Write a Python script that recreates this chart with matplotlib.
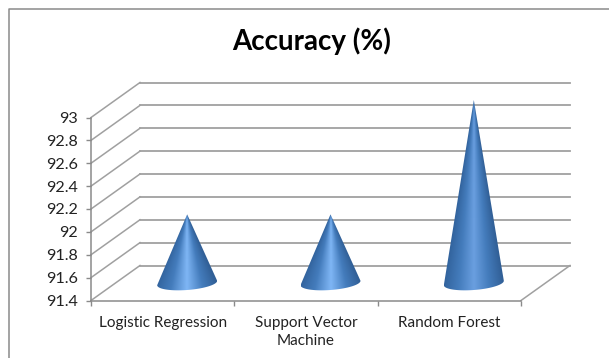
import matplotlib
matplotlib.use("Agg")
import matplotlib.pyplot as plt
import numpy as np
from matplotlib.colors import LinearSegmentedColormap
from matplotlib.lines import Line2D
from matplotlib.patches import PathPatch
from matplotlib.path import Path
from matplotlib.transforms import Affine2D

# values
categories = ["Logistic Regression", "Support Vector\nMachine", "Random Forest"]
accuracy = [92.0, 92.0, 93.0]
y_ticks = [91.4, 91.6, 91.8, 92, 92.2, 92.4, 92.6, 92.8, 93]
y_tick_labels = ["91.4", "91.6", "91.8", "92", "92.2", "92.4", "92.6", "92.8", "93"]

plt.rcParams['font.family'] = ['Lato', 'DejaVu Sans']

W, H = 609, 358
fig = plt.figure(figsize=(W / 100, H / 100), dpi=100)
ax = fig.add_axes([91 / W, (H - 300.5) / H, 430 / W, 183 / H])
ax.set_xlim(0, 3)
ax.set_ylim(91.4, 93)

# chart is a fake 3D one, the back wall is the front plane shifted by some pixels
grey = "#a0a0a0"
back = ax.transData + Affine2D().translate(49, 35)
mid = ax.transData + Affine2D().translate(24.5, 17.5)


def depth_line(x, y):
    # line from front plane to back wall, in pixels on screen
    p0 = ax.transData.transform((x, y))
    p1 = back.transform((x, y))
    ax.add_line(Line2D([p0[0], p1[0]], [p0[1], p1[1]], transform=None,
                       color=grey, lw=1.1, clip_on=False, zorder=1))


for v in y_ticks:
    ax.plot([0, 3], [v, v], transform=back, color=grey, lw=1.3, clip_on=False, zorder=1)
    depth_line(0, v)
depth_line(3, y_ticks[0])

# cones
px_x = 3 / 430
px_y = 1.6 / 183
half_w = 30 * px_x
base_b = 7 * px_y
tilt = 2.2 * px_y
light = ["#7fb6f5", "#7fb6f5", "#6a9fe0"]

for i, v in enumerate(accuracy):
    cm = LinearSegmentedColormap.from_list("cone", [
        (0.0, "#32639d"), (0.25, "#447cbc"), (0.5, light[i]),
        (0.75, "#447cbc"), (1.0, "#315f96")])
    xc = i + 0.5
    y0 = y_ticks[0]
    xs = np.linspace(xc - half_w, xc + half_w, 200)
    ys = np.linspace(y0 - 2 * base_b, v, 400)
    X, Y = np.meshgrid(xs, ys)
    frac = np.clip((v - Y) / (v - y0), 0.003, None)
    u = np.clip((X - xc) / (half_w * frac) / 2 + 0.5, 0, 1)
    im = ax.imshow(cm(u), origin="lower", aspect="auto", transform=mid,
                   extent=[xs[0], xs[-1], ys[0], ys[-1]], zorder=3,
                   interpolation="bilinear")
    t = np.linspace(np.pi, 2 * np.pi, 40)
    bx = xc + half_w * np.cos(t)
    by = y0 + base_b * np.sin(t) + tilt * np.cos(t)
    verts = [(xc, v)] + list(zip(bx, by)) + [(xc, v)]
    patch = PathPatch(Path(verts), transform=mid, fc="none", ec="none")
    im.set_clip_box(fig.bbox)
    im.set_clip_path(patch)

ax.set_xlim(0, 3)
ax.set_ylim(91.4, 93)
ax.patch.set_visible(False)

for s in ["top", "right"]:
    ax.spines[s].set_visible(False)
for s in ["left", "bottom"]:
    ax.spines[s].set_color("#8a8a8a")
    ax.spines[s].set_linewidth(1.1)
    ax.spines[s].set_zorder(2)

ax.set_yticks(y_ticks, y_tick_labels, fontsize=11.6, color="#222222")
ax.tick_params(axis="y", length=3.6, width=1, color="#8a8a8a", pad=6)
ax.set_xticks([0, 1, 2, 3], ["", "", "", ""])
ax.tick_params(axis="x", which="major", length=3.6, width=1, color="#8a8a8a")
ax.set_xticks([0.5, 1.5, 2.5], categories, minor=True, fontsize=11, color="#222222",
              linespacing=1.4, va="top")
ax.tick_params(axis="x", which="minor", length=0, pad=11)

fig.text(312 / W, (H - 41) / H, "Accuracy (%)", fontsize=20, fontweight="bold",
         ha="center", va="center", color="black")

# chart frame, right and bottom sides are cropped away in the picture
fig.add_artist(Line2D([8.5 / W, 8.5 / W, 1], [0, (H - 8.5) / H, (H - 8.5) / H],
                      color="#8a8a8a", lw=1.1))

fig.savefig("out.png", dpi=100)
